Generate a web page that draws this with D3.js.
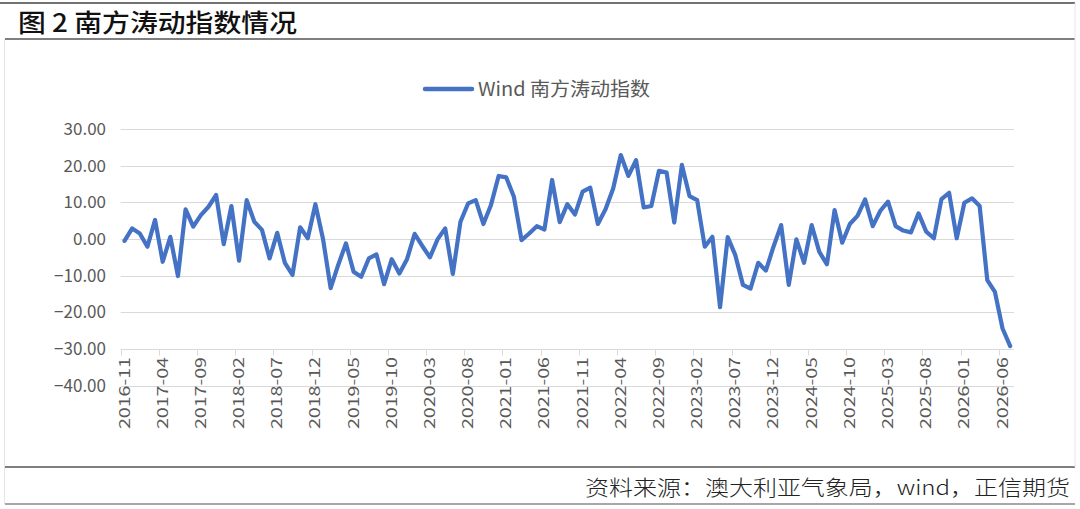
<!DOCTYPE html>
<html>
<head>
<meta charset="utf-8">
<script src="https://cdn.jsdelivr.net/npm/d3@7/dist/d3.min.js"></script>
<style>
  html, body { margin: 0; padding: 0; background: #fff; }
  svg { display: block; }
</style>
</head>
<body>
<svg id="chart" width="1080" height="509"></svg>
<script>
// ---- data ----
const startMonth = "2016-11";
const monthCount = 117; // 2016-11 .. 2026-07
const soiValues = [
  -0.5, 2.9, 1.5, -2.1, 5.2, -6.2, 0.6, -10.1, 8.1, 3.4,
  6.5, 8.8, 12.0, -1.4, 9.0, -5.9, 10.6, 4.7, 2.5, -5.3,
  1.7, -6.5, -9.8, 3.2, 0.2, 9.5, 0.0, -13.4, -7.0, -1.2,
  -8.9, -10.3, -5.3, -4.2, -12.3, -5.5, -9.4, -5.5, 1.4, -1.9,
  -5.0, -0.1, 2.9, -9.5, 4.7, 9.7, 10.6, 4.1, 9.3, 17.2,
  16.8, 11.5, -0.3, 1.5, 3.5, 2.6, 16.1, 4.6, 9.5, 6.7,
  12.9, 14.0, 4.1, 8.1, 13.8, 22.9, 17.2, 21.5, 8.6, 9.0,
  18.6, 18.1, 4.5, 20.2, 11.7, 10.6, -2.1, 0.6, -18.6, 0.5,
  -4.4, -12.5, -13.5, -6.5, -8.6, -2.1, 3.8, -12.5, -0.1, -6.5,
  3.8, -3.5, -6.9, 7.9, -1.0, 4.1, 6.3, 10.8, 3.5, 7.7,
  10.2, 3.5, 2.3, 1.8, 7.0, 2.0, 0.2, 10.9, 12.6, 0.2,
  9.9, 11.1, 9.0, -11.2, -14.4, -24.4, -29.2
];
const yTicks = [30, 20, 10, 0, -10, -20, -30, -40];
const xTickLabels = [
  "2016-11","2017-04","2017-09","2018-02","2018-07","2018-12","2019-05","2019-10",
  "2020-03","2020-08","2021-01","2021-06","2021-11","2022-04","2022-09","2023-02",
  "2023-07","2023-12","2024-05","2024-10","2025-03","2025-08","2026-01","2026-06"
];
const seriesName = "Wind 南方涛动指数";
const titleText = "图 2  南方涛动指数情况";
const sourceText = "资料来源：澳大利亚气象局，wind，正信期货";

// ---- categories ----
const fmt = d3.timeFormat("%Y-%m");
const parse = d3.timeParse("%Y-%m");
const months = d3.range(monthCount).map(i => fmt(d3.timeMonth.offset(parse(startMonth), i)));
const data = months.map((m, i) => ({ m, v: soiValues[i] }));

const svg = d3.select("#chart");
const font = "'Noto Sans CJK SC', 'Noto Sans', sans-serif";

// frame lines
svg.append("line").attr("x1", 0).attr("x2", 1075).attr("y1", 3).attr("y2", 3)
  .attr("stroke", "#444").attr("stroke-width", 1.5);
svg.append("line").attr("x1", 5).attr("x2", 1075).attr("y1", 39).attr("y2", 39)
  .attr("stroke", "#555").attr("stroke-width", 1.5);
svg.append("line").attr("x1", 5).attr("x2", 1075).attr("y1", 467).attr("y2", 467)
  .attr("stroke", "#555").attr("stroke-width", 1.5);
svg.append("line").attr("x1", 5).attr("x2", 1075).attr("y1", 504).attr("y2", 504)
  .attr("stroke", "#8a8a8a").attr("stroke-width", 1.5);
svg.append("line").attr("x1", 4.5).attr("x2", 4.5).attr("y1", 39).attr("y2", 504)
  .attr("stroke", "#e6e6e6").attr("stroke-width", 1);
svg.append("line").attr("x1", 1075).attr("x2", 1075).attr("y1", 3).attr("y2", 467)
  .attr("stroke", "#e6e6e6").attr("stroke-width", 1);

// title
svg.append("text").attr("x", 18).attr("y", 32)
  .attr("font-family", font).attr("font-size", 25).attr("font-weight", 500).attr("fill", "#111")
  .attr("textLength", 279).attr("lengthAdjust", "spacingAndGlyphs")
  .text(titleText);

// source
svg.append("text").attr("x", 1070).attr("y", 495).attr("text-anchor", "end")
  .attr("font-family", font).attr("font-size", 21).attr("font-weight", 300).attr("fill", "#222")
  .attr("textLength", 485).attr("lengthAdjust", "spacingAndGlyphs")
  .text(sourceText);

// scales
const x = d3.scaleBand().domain(months).range([120.7, 1014]).paddingInner(0).paddingOuter(0);
const y = d3.scaleLinear().domain([-40, 30]).range([385.7, 129]);
const bw = x.bandwidth();
const cx = m => x(m) + bw / 2;

// gridlines
svg.append("g").selectAll("line").data(yTicks.filter(t => t !== -30)).join("line")
  .attr("x1", 120.7).attr("x2", 1014)
  .attr("y1", d => Math.round(y(d)) + 0.5).attr("y2", d => Math.round(y(d)) + 0.5)
  .attr("stroke", "#d9d9d9").attr("stroke-width", 1);

// y labels
svg.append("g").selectAll("text").data(yTicks).join("text")
  .attr("x", 106).attr("y", d => y(d) + 6).attr("text-anchor", "end")
  .attr("font-family", font).attr("font-size", 17).attr("fill", "#595959")
  .text(d => d3.format(".2f")(d));

// x axis at -30
const axisY = Math.round(y(-30)) + 0.5;
const xAxis = d3.axisBottom(x)
  .tickValues(xTickLabels)
  .tickSize(0)
  .tickFormat("");
const gx = svg.append("g").attr("transform", `translate(0,${axisY})`).call(xAxis);
gx.select(".domain").attr("stroke", "#d9d9d9").attr("d", `M120.7,0H1014`);
gx.selectAll(".tick").remove();
// tick marks at category boundaries
svg.append("g").selectAll("line").data(xTickLabels).join("line")
  .attr("x1", d => Math.round(x(d)) + 0.5).attr("x2", d => Math.round(x(d)) + 0.5)
  .attr("y1", axisY).attr("y2", axisY + 6)
  .attr("stroke", "#d9d9d9").attr("stroke-width", 1);
// tick labels
svg.append("g").selectAll("text").data(xTickLabels).join("text")
  .attr("transform", d => `translate(${cx(d) + 5},357) rotate(-90)`)
  .attr("text-anchor", "end")
  .attr("font-family", font).attr("font-size", 14.5).attr("fill", "#595959")
  .attr("textLength", 72).attr("lengthAdjust", "spacingAndGlyphs")
  .text(d => d);

// series line
const line = d3.line().x(d => cx(d.m)).y(d => y(d.v));
svg.append("path").datum(data)
  .attr("d", line)
  .attr("fill", "none").attr("stroke", "#4472C4").attr("stroke-width", 4.2)
  .attr("stroke-linejoin", "round").attr("stroke-linecap", "round");

// legend
svg.append("line").attr("x1", 425).attr("x2", 472).attr("y1", 89).attr("y2", 89)
  .attr("stroke", "#4472C4").attr("stroke-width", 4.5).attr("stroke-linecap", "round");
svg.append("text").attr("x", 478).attr("y", 96)
  .attr("font-family", font).attr("font-size", 19).attr("fill", "#595959")
  .attr("textLength", 172).attr("lengthAdjust", "spacingAndGlyphs")
  .text(seriesName);
</script>
</body>
</html>
